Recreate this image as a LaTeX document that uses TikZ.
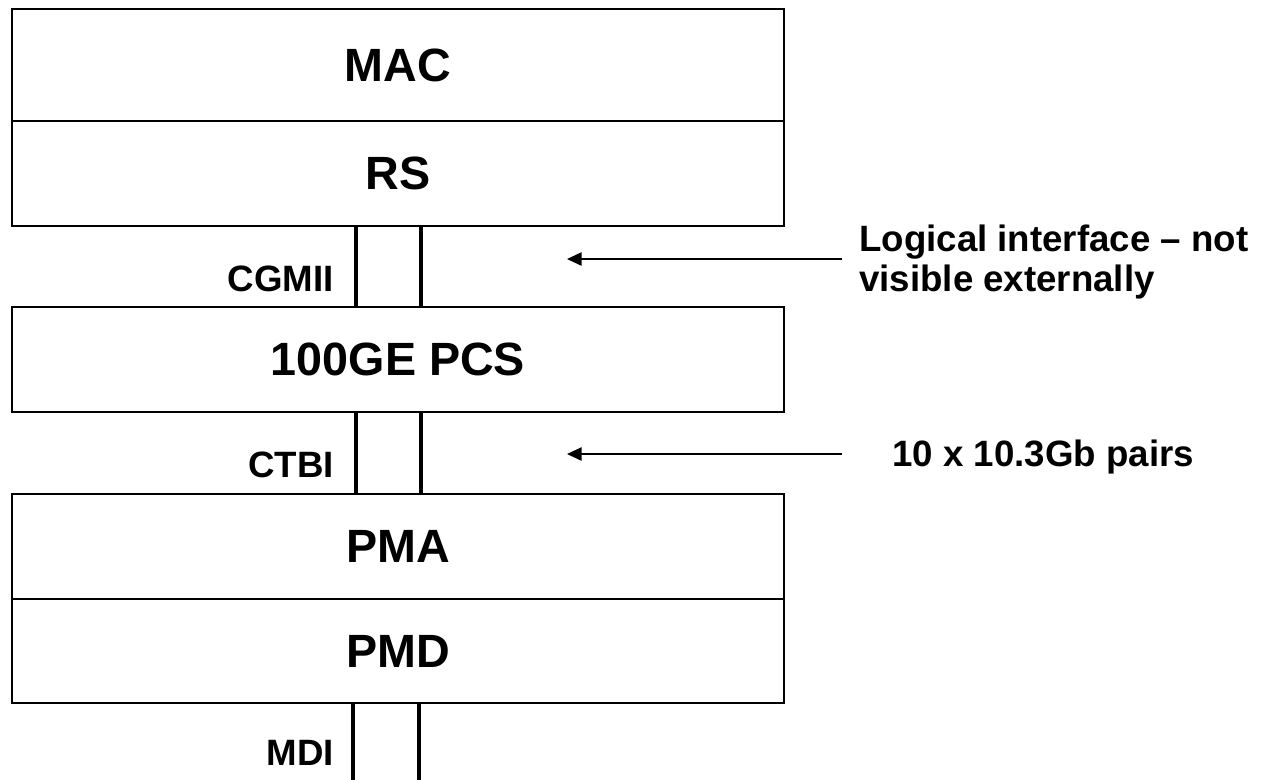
\documentclass[tikz,border=0pt]{standalone}
\usepackage{fontspec}
\setmainfont{Liberation Sans}
\usetikzlibrary{positioning,arrows.meta}
\tikzset{
  layer/.style={draw,line width=1.6pt,outer sep=0pt,inner sep=0pt,minimum width=579pt,minimum height=78.75pt,font=\fontsize{35}{40}\selectfont\bfseries},
  link/.style={line width=3.4pt},
  tag/.style={inner sep=0pt,align=left,font=\fontsize{27.5}{30}\selectfont\bfseries},
  pointer/.style={-{Triangle[length=11pt,width=10pt]},line width=1.2pt}
}
\begin{document}
\begin{tikzpicture}[x=0.75pt,y=-0.75pt]
\useasboundingbox (0,0) rectangle (1261,780);
% layer stack
\node[layer,minimum height=84pt] (mac) at (398,65) {MAC};
\node[layer,below=0pt of mac] (rs) {RS};
\node[layer] (pcs) at (398,359.5) {100GE PCS};
\node[layer] (pma) at (398,546.5) {PMA};
\node[layer,below=0pt of pma,minimum height=78pt] (pmd) {PMD};
% interfaces between layers
\draw[link] ([xshift=-31.5pt]rs.south) -- ([xshift=-31.5pt]pcs.north);
\draw[link] ([xshift=17.25pt]rs.south) -- ([xshift=17.25pt]pcs.north);
\draw[link] ([xshift=-31.5pt]pcs.south) -- ([xshift=-31.5pt]pma.north);
\draw[link] ([xshift=17.25pt]pcs.south) -- ([xshift=17.25pt]pma.north);
\draw[link] ([xshift=-33.75pt]pmd.south) -- ++(0,78);
\draw[link] ([xshift=15.75pt]pmd.south) -- ++(0,78);
\node[tag,anchor=east] (cgmii) at (334,278.5) {CGMII};
\node[tag,anchor=east] (ctbi) at (334,465) {CTBI};
\node[tag,anchor=east] (mdi) at (334,753) {MDI};
% notes on the right
\node[tag,anchor=west] (logic) at (859,262.5) {Logical interface -- not\\visible externally};
\node[tag,anchor=west] (pairs) at (892,457.5) {10 x 10.3Gb pairs};
\draw[pointer] ([xshift=-12.75pt,yshift=2.6pt]logic.west) -- ++(-275,0);
\draw[pointer] ([xshift=-37.5pt,yshift=2.6pt]pairs.west) -- ++(-275,0);
\end{tikzpicture}
\end{document}
